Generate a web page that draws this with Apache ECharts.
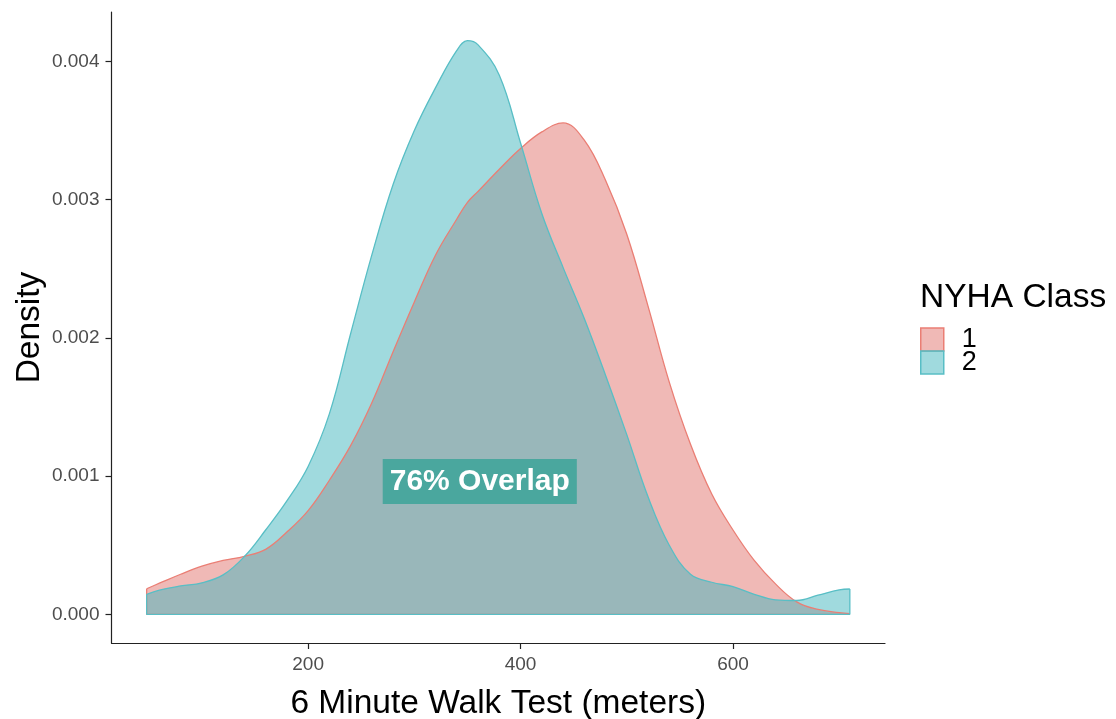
<!DOCTYPE html>
<html>
<head>
<meta charset="utf-8">
<style>
  html, body { margin: 0; padding: 0; background: #ffffff; }
  #chart { width: 1116px; height: 719px; }
</style>
<script src="https://cdn.jsdelivr.net/npm/echarts@6/dist/echarts.min.js"></script>
</head>
<body>
<div id="chart"></div>
<script>
// 6MWT distance (meters) at which the kernel density estimates are evaluated
const walkDistance = [48, 60, 80, 100, 120, 140, 160, 180, 200, 220, 240, 260, 280, 300, 320, 340, 350, 360,
  380, 400, 420, 440, 460, 480, 500, 520, 540, 560, 580, 600, 620, 640, 660, 680, 700, 710];

// Density for NYHA class 1
const class1Density = [0.000185, 0.000225, 0.00029, 0.000348, 0.00039, 0.00042, 0.00047, 0.000595, 0.00075, 0.00097,
  0.00122, 0.00153, 0.0019, 0.00226, 0.0026, 0.00286, 0.00298, 0.00306, 0.00322, 0.00337,
  0.00349, 0.003555, 0.00343, 0.00314, 0.00275, 0.00223, 0.00168, 0.00123, 0.00087, 0.00061,
  0.00039, 0.00022, 0.00009, 0.000035, 0.000012, 0.000005];

// Density for NYHA class 2
const class2Density = [0.000145, 0.000175, 0.000205, 0.000228, 0.000285, 0.000418, 0.00061, 0.00082, 0.00107, 0.00145,
  0.00203, 0.0026, 0.00311, 0.0035, 0.00381, 0.00408, 0.00415, 0.00412, 0.0039, 0.00341,
  0.0029, 0.00251, 0.00214, 0.00173, 0.0013, 0.00085, 0.0005, 0.00029, 0.000232, 0.0002,
  0.000145, 0.000105, 0.0001, 0.000138, 0.000177, 0.000183];

const classNames = ['1', '2'];
const xTicks = [200, 400, 600];
const yTicks = [0, 0.001, 0.002, 0.003, 0.004];

const overlapText = '76% Overlap';
const overlapAt = [361.6, 0.00096];

const FONT = '"Liberation Sans", Arial, Helvetica, sans-serif';
const lineColors = ['#EA7E74', '#58BEC5'];
const fillColors = ['rgba(225,115,110,0.5)', 'rgba(65,181,189,0.5)'];

// expand the axes 5% beyond the data, as the density plot does
const xMinData = walkDistance[0];
const xMaxData = walkDistance[walkDistance.length - 1];
const xPad = (xMaxData - xMinData) * 0.05;
const yMaxData = Math.max(...class1Density, ...class2Density);
const yPad = yMaxData * 0.05;

function curve(values) {
  return walkDistance.map((x, i) => [x, values[i]]);
}
// left edge, baseline and right edge of the density polygon
function outline(values) {
  return [
    [xMinData, values[0]],
    [xMinData, 0],
    [xMaxData, 0],
    [xMaxData, values[values.length - 1]]
  ];
}

const densities = [class1Density, class2Density];
const series = [];
densities.forEach((vals, k) => {
  series.push({
    name: classNames[k],
    type: 'line',
    data: curve(vals),
    smooth: 0.4,
    showSymbol: false,
    symbol: 'none',
    lineStyle: { color: lineColors[k], width: 1.3 },
    itemStyle: { color: lineColors[k] },
    areaStyle: { color: fillColors[k], opacity: 1, origin: 0 },
    silent: true
  });
  series.push({
    name: 'edge' + classNames[k],
    type: 'line',
    data: outline(vals),
    showSymbol: false,
    symbol: 'none',
    lineStyle: { color: lineColors[k], width: 1.3 },
    silent: true
  });
});

series.push({
  name: 'overlap',
  type: 'scatter',
  data: [overlapAt],
  symbolSize: 0,
  silent: true,
  z: 10,
  itemStyle: { opacity: 1 },
  label: {
    show: true,
    opacity: 1,
    position: 'inside',
    formatter: overlapText,
    fontFamily: FONT,
    fontWeight: 'bold',
    fontSize: 30,
    lineHeight: 33,
    color: '#ffffff',
    backgroundColor: '#4aa79e',
    padding: [6, 7, 6, 7]
  }
});

const chart = echarts.init(document.getElementById('chart'), null, { renderer: 'canvas' });
chart.setOption({
  animation: false,
  backgroundColor: '#ffffff',
  textStyle: { fontFamily: FONT },
  title: {
    text: 'NYHA Class',
    left: 920,
    top: 281,
    padding: 0,
    textStyle: { fontFamily: FONT, fontWeight: 'normal', fontSize: 33.5, color: '#000000' }
  },
  legend: {
    orient: 'vertical',
    left: 920,
    top: 326,
    padding: 0,
    itemWidth: 23,
    itemHeight: 23,
    itemGap: -4,
    icon: 'rect',
    selectedMode: false,
    data: classNames.map((n, k) => ({
      name: n,
      itemStyle: { color: fillColors[k], borderColor: lineColors[k], borderWidth: 1.5 }
    })),
    textStyle: { fontFamily: FONT, fontSize: 27, lineHeight: 23, color: '#000000', padding: [0, 0, 0, 13] }
  },
  grid: { left: 111.5, right: 231, top: 12, bottom: 76, containLabel: false, outerBoundsMode: 'none' },
  xAxis: {
    type: 'value',
    min: xMinData - xPad,
    max: xMaxData + xPad,
    name: '6 Minute Walk Test (meters)',
    nameLocation: 'middle',
    nameGap: 44,
    nameMoveOverlap: false,
    nameTextStyle: { fontFamily: FONT, fontSize: 33.5, color: '#000000' },
    axisLine: { show: true, onZero: false, lineStyle: { color: '#222222', width: 1.2 } },
    axisTick: { show: true, length: 6, customValues: xTicks, lineStyle: { color: '#222222', width: 1.2 } },
    axisLabel: { customValues: xTicks, margin: 12, fontFamily: FONT, fontSize: 19, color: '#4d4d4d' },
    splitLine: { show: false }
  },
  yAxis: {
    type: 'value',
    min: -yPad,
    max: yMaxData + yPad,
    name: 'Density',
    nameLocation: 'middle',
    nameGap: 65,
    nameMoveOverlap: false,
    nameTextStyle: { fontFamily: FONT, fontSize: 33.5, color: '#000000' },
    axisLine: { show: true, onZero: false, lineStyle: { color: '#222222', width: 1.2 } },
    axisTick: { show: true, length: 6, customValues: yTicks, lineStyle: { color: '#222222', width: 1.2 } },
    axisLabel: {
      customValues: yTicks,
      margin: 12,
      fontFamily: FONT,
      fontSize: 19,
      color: '#4d4d4d',
      formatter: v => v.toFixed(3)
    },
    splitLine: { show: false }
  },
  series: series
});
</script>
</body>
</html>
